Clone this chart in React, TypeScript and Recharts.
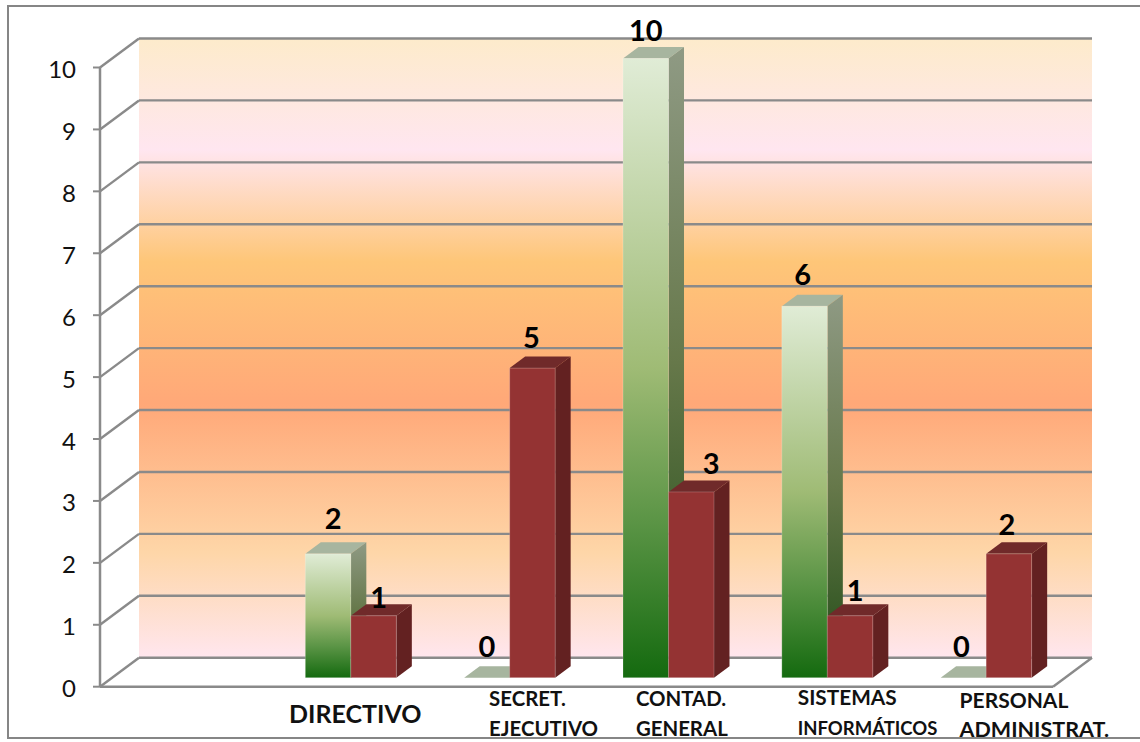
import { BarChart, Bar, XAxis, YAxis, CartesianGrid, ReferenceArea, LabelList } from "recharts";

// first category is empty in the original chart
const categories = ["", "DIRECTIVO", "SECRET.|EJECUTIVO", "CONTAD.|GENERAL", "SISTEMAS|INFORMÁTICOS", "PERSONAL|ADMINISTRAT."];
const greenValues = [null, 2, 0, 10, 6, 0];
const redValues = [null, 1, 5, 3, 1, 2];
const yTicks = [0, 1, 2, 3, 4, 5, 6, 7, 8, 9, 10];

const data = categories.map((name, i) => ({ name, green: greenValues[i], red: redValues[i] }));

const wallStops: [number, string][] = [
  [0, "#fdebcb"],
  [0.18, "#ffe6f0"],
  [0.36, "#fec678"],
  [0.59, "#ffa878"],
  [0.83, "#fed6a8"],
  [1, "#ffe6ee"],
];

const LINE = "#8a8a8a";
// 3D offsets of the back wall and of the bars
const WALL_DX = 39;
const WALL_DY = -29;
const BAR_DX = 12.5;
const BAR_DY = -9;
const DEPTH_X = 15.5;
const DEPTH_Y = -11.5;

// data labels were moved by hand in the original: [dx from bar center, dy from bar top]
// LabelList skips the empty first category, so these start at DIRECTIVO
const greenNudge = [[5, -35], [0, -31], [0, -28], [-2, -31], [-2, -31]];
const redNudge = [[5, -18], [-1, -30], [20, -28], [5, -25], [-2, -29]];

const catText: Record<number, { dx: number; y: number; gap: number; sizes: number[]; anchor?: string }> = {
  1: { dx: 17, y: 723, gap: 0, sizes: [25], anchor: "middle" },
  2: { dx: -8, y: 706, gap: 30, sizes: [20.4, 20.4] },
  3: { dx: -20, y: 706, gap: 30, sizes: [20.4, 20.4] },
  4: { dx: -17, y: 705, gap: 30, sizes: [20.8, 18.5] },
  5: { dx: -14, y: 708, gap: 28.5, sizes: [21, 21.5] },
};

function Bar3D(props: any) {
  const { x, y, width, height, front, side, top } = props;
  const l = x + BAR_DX;
  const t = y + BAR_DY;
  const r = l + width;
  const b = t + height;
  return (
    <g>
      <polygon points={`${l},${t} ${l + DEPTH_X},${t + DEPTH_Y} ${r + DEPTH_X},${t + DEPTH_Y} ${r},${t}`} fill={top} />
      {height > 0 && (
        <>
          <polygon points={`${r},${t} ${r + DEPTH_X},${t + DEPTH_Y} ${r + DEPTH_X},${b + DEPTH_Y} ${r},${b}`} fill={side} />
          <rect x={l} y={t} width={width} height={height} fill={front} stroke="rgba(255,255,255,0.2)" strokeWidth={1} />
        </>
      )}
    </g>
  );
}

function Walls(props: any) {
  const { x, y, width, height } = props;
  return (
    <rect x={x + WALL_DX} y={y + WALL_DY} width={width} height={height} fill="url(#wallGrad)" />
  );
}

function GridLine(props: any) {
  const { x1, x2, y1 } = props;
  const b = y1 + WALL_DY;
  return (
    <g stroke={LINE} strokeWidth={2.4} fill="none">
      <line x1={x1} y1={y1} x2={x1 + WALL_DX} y2={b} />
      <line x1={x1 + WALL_DX} y1={b} x2={x2 + WALL_DX} y2={b} />
      {y1 > 680 && <line x1={x2} y1={y1} x2={x2 + WALL_DX} y2={b} />}
    </g>
  );
}

function CatTick(props: any) {
  const { x, index, payload } = props;
  const cfg = catText[index];
  if (!cfg) return null;
  return (
    <g>
      {String(payload.value)
        .split("|")
        .map((line, i) => (
          <text
            key={line}
            x={x + cfg.dx}
            y={cfg.y + i * cfg.gap}
            textAnchor={(cfg.anchor || "start") as any}
            fontFamily="Lato"
            fontWeight={700}
            fontSize={cfg.sizes[i]}
            fill="#111"
          >
            {line}
          </text>
        ))}
    </g>
  );
}

function ValueLabel(props: any) {
  const { x, y, width, value, index, nudge } = props;
  if (value === null || value === undefined) return null;
  const [dx, dy] = nudge[index];
  return (
    <text
      x={x + width / 2 + BAR_DX + dx}
      y={y + BAR_DY + dy + 10}
      textAnchor="middle"
      fontFamily="Lato"
      fontWeight={700}
      fontSize={29}
      fill="#000"
    >
      {value}
    </text>
  );
}

export default function App() {
  return (
    <div style={{ position: "absolute", left: 0, top: 0, width: 1140, height: 742, background: "#fff", overflow: "hidden" }}>
      <div style={{ position: "absolute", left: 0, top: 0, width: 1140, height: 737, overflow: "hidden" }}>
        <BarChart
          width={1140}
          height={742}
          data={data}
          margin={{ top: 67.5, right: 87, bottom: 0, left: 0 }}
          barSize={45.5}
          barGap={0}
        >
          <defs>
            <linearGradient id="wallGrad" x1="0" y1="0" x2="0" y2="1">
              {wallStops.map(([o, c]) => (
                <stop key={o} offset={o} stopColor={c} />
              ))}
            </linearGradient>
            <linearGradient id="greenFront" x1="0" y1="0" x2="0" y2="1">
              <stop offset="0" stopColor="#e0ecd6" />
              <stop offset="0.5" stopColor="#9fbb75" />
              <stop offset="0.75" stopColor="#5a9445" />
              <stop offset="1" stopColor="#146a0f" />
            </linearGradient>
            <linearGradient id="greenSide" x1="0" y1="0" x2="0" y2="1">
              <stop offset="0" stopColor="#8f9a84" />
              <stop offset="0.5" stopColor="#66784a" />
              <stop offset="1" stopColor="#1f4a15" />
            </linearGradient>
          </defs>
          <ReferenceArea
            x1=""
            x2="PERSONAL|ADMINISTRAT."
            y1={0}
            y2={10}
            shape={<Walls />}
            ifOverflow="visible"
            fill="none"
            zIndex={-200}
          />
          <CartesianGrid vertical={false} horizontal={(p: any) => <GridLine key={p.y1} {...p} />} />
          <XAxis
            dataKey="name"
            height={55.3}
            tick={<CatTick />}
            interval={0}
            tickLine={false}
            axisLine={{ stroke: LINE, strokeWidth: 2.5 }}
          />
          <YAxis
            domain={[0, 10]}
            ticks={yTicks}
            interval={0}
            width={100}
            tick={{ fontFamily: "Lato", fontSize: 24, fill: "#111", dx: -15, dy: 2 }}
            tickSize={7}
            tickLine={{ stroke: LINE, strokeWidth: 2 }}
            axisLine={{ stroke: LINE, strokeWidth: 2.5 }}
          />
          <Bar dataKey="green" isAnimationActive={false} shape={<Bar3D front="url(#greenFront)" side="url(#greenSide)" top="#a7b59f" />}>
            <LabelList dataKey="green" content={<ValueLabel nudge={greenNudge} />} />
          </Bar>
          <Bar dataKey="red" isAnimationActive={false} shape={<Bar3D front="#943333" side="#632121" top="#702a2a" />}>
            <LabelList dataKey="red" content={<ValueLabel nudge={redNudge} />} />
          </Bar>
        </BarChart>
      </div>
      <div
        style={{
          position: "absolute",
          left: 7,
          top: 5,
          width: 1140,
          height: 730,
          borderLeft: "2px solid #868686",
          borderTop: "2px solid #868686",
          borderBottom: "2px solid #868686",
        }}
      />
    </div>
  );
}
